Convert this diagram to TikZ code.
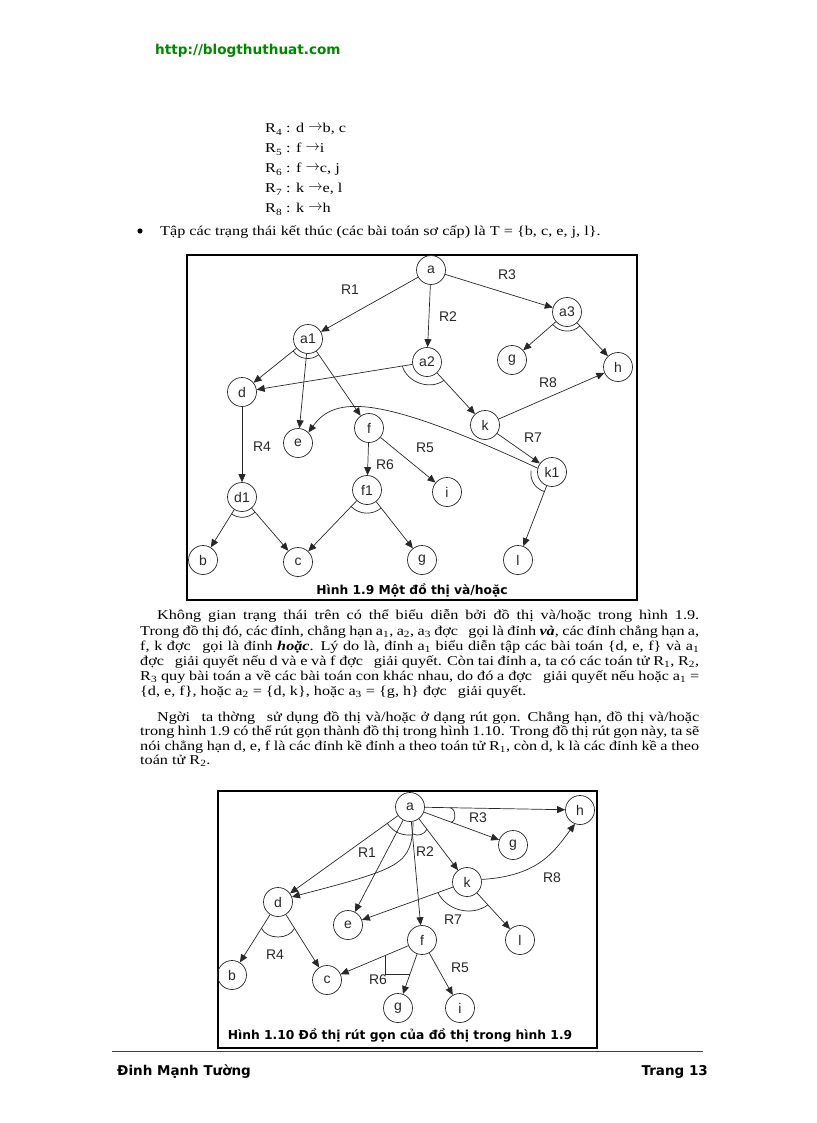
\documentclass[tikz,border=0pt]{standalone}
\usepackage{fontspec}
\setmainfont{Liberation Serif}[FakeStretch=1.2]
\newfontfamily\arialf{Liberation Sans}
\newfontfamily\verdf{DejaVu Sans}
\usetikzlibrary{arrows.meta,calc}
\definecolor{hdrgreen}{RGB}{0,135,0}
\definecolor{ink}{RGB}{40,40,40}
\newcommand{\andArc}[5]{\draw[andarc] ($(#1)!#4!(#2)$) to[bend right=#5] ($(#1)!#4!(#3)$);}
\begin{document}
\begin{tikzpicture}[x=1pt,y=1pt,
  st/.style={circle,draw=ink,line width=0.7pt,minimum size=29pt,inner sep=0pt,font=\arialf\fontsize{14}{14}\selectfont,text=ink},
  arr/.style={draw=ink,line width=0.7pt,-{Triangle[length=8pt,width=7pt]}},
  andarc/.style={draw=ink,line width=0.7pt},
  lab/.style={font=\arialf\fontsize{14}{14}\selectfont,text=ink,inner sep=0pt},
  body/.style={anchor=base west,inner sep=0pt,font=\fontsize{13.5}{15}\selectfont},
  figcap/.style={font=\verdf\bfseries\fontsize{12.3}{13}\selectfont,inner sep=0pt,anchor=base},
  foot/.style={font=\verdf\bfseries\fontsize{13.5}{14}\selectfont,inner sep=0pt},
  boxframe/.style={draw=black,line width=1.1pt}
]
\useasboundingbox (0,0) rectangle (816,-1123);
\fill[white] (0,0) rectangle (816,-1123);

% header
\node[foot,anchor=base west,text=hdrgreen,font=\verdf\bfseries\fontsize{13.6}{14}\selectfont] (hdr) at (155,-55) {http://blogthuthuat.com};

% rules list
\node[body] (r4) at (265,-133) {R\textsubscript{4} : d \raisebox{2.5pt}{$\rightarrow$}b, c};
\node[body] (r5) at (265,-153) {R\textsubscript{5} : f \raisebox{2.5pt}{$\rightarrow$}i};
\node[body] (r6) at (265,-173) {R\textsubscript{6} : f \raisebox{2.5pt}{$\rightarrow$}c, j};
\node[body] (r7) at (265,-193) {R\textsubscript{7} : k \raisebox{2.5pt}{$\rightarrow$}e, l};
\node[body] (r8) at (265,-213) {R\textsubscript{8} : k \raisebox{2.5pt}{$\rightarrow$}h};
\fill (140,-231) circle (2.6) coordinate (bul);
\node[body] (tline) at (160,-236) {Tập các trạng thái kết thúc (các bài toán sơ cấp) là T = \{b, c, e, j, l\}.};

% ---------- Figure 1.9 ----------
\draw[boxframe] (187,-255) rectangle (637,-600);
\node[st] (a) at (431,-270) {a};
\node[st] (a1) at (308,-339) {a1};
\node[st] (a2) at (427,-362) {a2};
\node[st] (a3) at (567,-312) {a3};
\node[st] (gA) at (512,-360) {g};
\node[st] (hA) at (618,-367) {h};
\node[st] (dA) at (242,-392) {d};
\node[st] (kA) at (485,-425) {k};
\node[st] (fA) at (369,-428) {f};
\node[st] (eA) at (298,-443) {e};
\node[st] (d1) at (242,-497) {d1};
\node[st] (f1) at (367,-490) {f1};
\node[st] (iA) at (447,-492) {i};
\node[st] (k1) at (552,-472) {k1};
\node[st] (bA) at (203,-560) {b};
\node[st] (cA) at (298,-562) {c};
\node[st] (gB) at (422,-560) {g};
\node[st] (lA) at (518,-560) {l};

\draw[arr] (a) -- (a1);
\draw[arr] (a) -- (a2);
\draw[arr] (a) -- (a3);
\draw[arr] (a1) -- (dA);
\draw[arr] (a1) -- (eA);
\draw[arr] (a1) -- (fA);
\draw[arr] (a2) -- (dA);
\draw[arr] (a2) -- (kA);
\draw[arr] (a3) -- (gA);
\draw[arr] (a3) -- (hA);
\draw[arr] (kA) -- (hA);
\draw[arr] (kA) -- (k1);
\draw[arr] (k1.165) .. controls (380,-395) and (335,-395) .. (eA.45);
\draw[arr] (k1) -- (lA);
\draw[arr] (dA) -- (d1);
\draw[arr] (fA) -- (f1);
\draw[arr] (fA) -- (iA);
\draw[arr] (d1) -- (bA);
\draw[arr] (d1) -- (cA);
\draw[arr] (f1) -- (cA);
\draw[arr] (f1) -- (gB);

\andArc{a1}{dA}{fA}{19pt}{48}
\andArc{a2}{dA}{kA}{25pt}{55}
\andArc{a3}{gA}{hA}{19pt}{47}
\andArc{d1}{bA}{cA}{20pt}{37}
\andArc{f1}{cA}{gB}{23pt}{41}
\draw[andarc] ($(k1)+(176:21)$) to[bend right=40] ($(k1)!21pt!(lA)$);

\node[lab] (l1) at (350,-290) {R1};
\node[lab] (l2) at (448,-317) {R2};
\node[lab] (l3) at (507,-275) {R3};
\node[lab] (l8) at (548,-383) {R8};
\node[lab] (l7) at (533,-438) {R7};
\node[lab] (l4) at (262,-447) {R4};
\node[lab] (l5) at (425,-448) {R5};
\node[lab] (l6) at (385,-465) {R6};
\node[figcap] (cap1) at (412,-594) {Hình 1.9 Một đồ thị và/hoặc};

% ---------- paragraph 1 ----------
\node[body] (p1) at (157,-619.5) {\hbox to 542pt{Không gian trạng thái trên có thể biểu diễn bởi đồ thị và/hoặc trong hình 1.9.}};
\node[body] (p2) at (140,-635) {\hbox to 559pt{Trong đồ thị đó, các đỉnh, chẳng hạn a\textsubscript{1}, a\textsubscript{2}, a\textsubscript{3} đợc\hspace{7pt} gọi là đỉnh \textbf{\textit{và}}, các đỉnh chẳng hạn a,}};
\node[body] (p3) at (140,-650.5) {\hbox to 559pt{f, k đợc\hspace{7pt} gọi là đỉnh \textbf{\textit{hoặc}}. Lý do là, đỉnh a\textsubscript{1} biểu diễn tập các bài toán \{d, e, f\} và a\textsubscript{1}}};
\node[body] (p4) at (140,-665.5) {\hbox to 559pt{đợc\hspace{7pt} giải quyết nếu d và e và f đợc\hspace{7pt} giải quyết. Còn tai đỉnh a, ta có các toán tử R\textsubscript{1}, R\textsubscript{2},}};
\node[body] (p5) at (140,-680.5) {\hbox to 559pt{R\textsubscript{3} quy bài toán a về các bài toán con khác nhau, do đó a đợc\hspace{7pt} giải quyết nếu hoặc a\textsubscript{1} =}};
\node[body] (p6) at (140,-695) {\{d, e, f\}, hoặc a\textsubscript{2} = \{d, k\}, hoặc a\textsubscript{3} = \{g, h\} đợc\hspace{7pt} giải quyết.};

% ---------- paragraph 2 ----------
\node[body] (q1) at (157,-721) {\hbox to 542pt{Ngời\hspace{7pt} ta thờng\hspace{7pt} sử dụng đồ thị và/hoặc ở dạng rút gọn. Chẳng hạn, đồ thị và/hoặc}};
\node[body] (q2) at (140,-735.5) {\hbox to 559pt{trong hình 1.9 có thể rút gọn thành đồ thị trong hình 1.10. Trong đồ thị rút gọn này, ta sẽ}};
\node[body] (q3) at (140,-750) {\hbox to 559pt{nói chẳng hạn d, e, f là các đỉnh kề đỉnh a theo toán tử R\textsubscript{1}, còn d, k là các đỉnh kề a theo}};
\node[body] (q4) at (140,-764.5) {toán tử R\textsubscript{2}.};

% ---------- Figure 1.10 ----------
\draw[boxframe] (218,-791) rectangle (597,-1048);
\node[st] (A) at (410,-807) {a};
\node[st] (H) at (580,-810) {h};
\node[st] (G) at (513,-845) {g};
\node[st] (K) at (467,-882) {k};
\node[st] (D) at (278,-902) {d};
\node[st] (E) at (348,-925) {e};
\node[st] (F) at (422,-940) {f};
\node[st] (L) at (520,-940) {l};
\node[st] (B) at (232,-975) {b};
\node[st] (C) at (327,-980) {c};
\node[st] (G2) at (398,-1008) {g};
\node[st] (I) at (460,-1008) {i};

\draw[arr] (A) -- (H);
\draw[arr] (A) -- (G);
\draw[arr] (A) -- (D);
\draw[arr] (A) -- (E);
\draw[arr] (A) -- (F);
\draw[arr] (A) -- (K);
\draw[arr] (A.-78) .. controls (412,-865) and (402,-868) .. (D.20);
\draw[arr] (K.10) .. controls (540,-876) and (555,-850) .. (H.250);
\draw[arr] (K) -- (E);
\draw[arr] (K) -- (L);
\draw[arr] (D) -- (B);
\draw[arr] (D) -- (C);
\draw[arr] (F) -- (C);
\draw[arr] (F) -- (G2);
\draw[arr] (F) -- (I);

\andArc{A}{D}{F}{28pt}{30}
\draw[andarc] (413,-834) to[bend right=45] ($(A)!28pt!(K)$);
\draw[andarc] ($(A)!44pt!(G)$) to[bend right=80] ($(A)!40pt!(H)$);
\andArc{K}{E}{L}{31pt}{50}
\andArc{D}{B}{C}{31pt}{65}
\draw[andarc] ($(F)!40pt!(C)$) |- ($(F)!36pt!(G2)$);

\node[lab] (m1) at (367,-853) {R1};
\node[lab] (m2) at (425,-852) {R2};
\node[lab] (m3) at (478,-818) {R3};
\node[lab] (m8) at (552,-878) {R8};
\node[lab] (m7) at (453,-920) {R7};
\node[lab] (m4) at (275,-955) {R4};
\node[lab] (m6) at (378,-980) {R6};
\node[lab] (m5) at (460,-968) {R5};
\node[figcap] (cap2) at (400,-1039) {Hình 1.10 Đồ thị rút gọn của đồ thị trong hình 1.9};

% footer
\draw[line width=0.8pt,black!75] (112,-1051) coordinate (fl) -- (703,-1051) coordinate (fr);
\node[foot,anchor=base west] (author) at (117,-1075) {Đinh Mạnh Tường};
\node[foot,anchor=base east] (page) at (708,-1075) {Trang 13};
\end{tikzpicture}
\end{document}
